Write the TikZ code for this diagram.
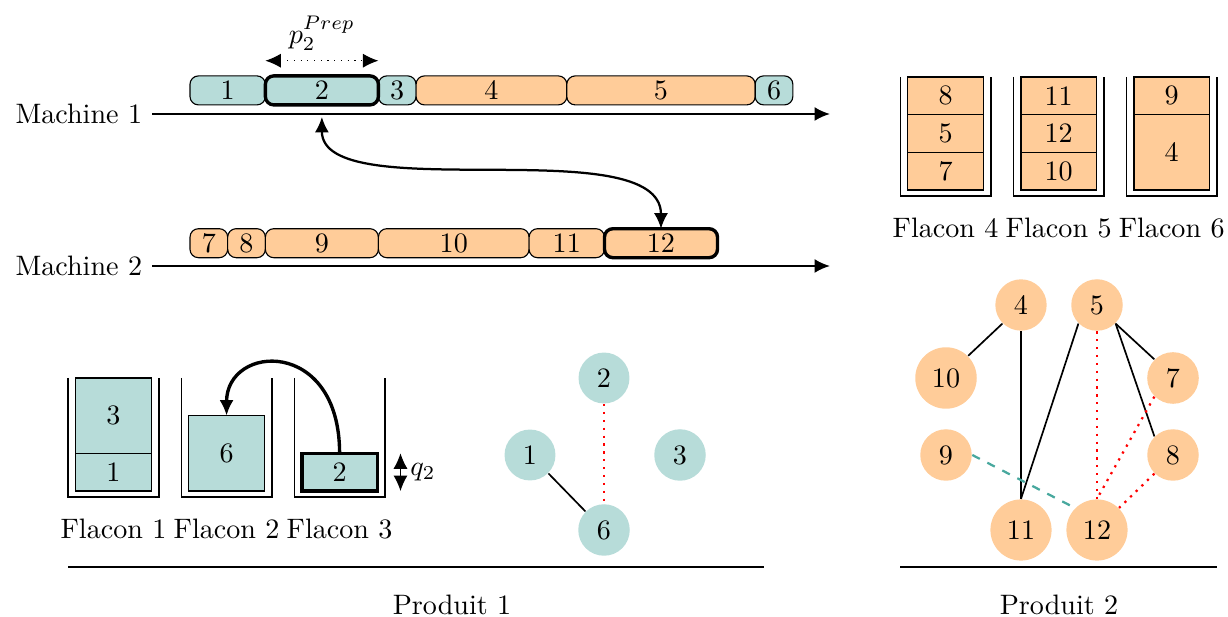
\documentclass[tikz,border=0pt]{standalone}
\usepackage{amsmath,amssymb}
\usepackage{xcolor}
\usepackage{tikz}
\usetikzlibrary{arrows.meta, positioning, calc}

\definecolor{prodA}{RGB}{183,220,217}
\definecolor{prodB}{RGB}{255,204,153}
\definecolor{prodAline}{RGB}{72,168,158}

\def\ux{0.471}

\begin{document}
\begin{tikzpicture}[>={Latex[length=5.5pt, width=5pt]},
  task/.style={draw, rounded corners=3pt, minimum height=0.3625cm, inner sep=0pt, outer sep=0pt, anchor=west},
  dose/.style={draw, minimum width=2*\ux cm, inner sep=0pt, outer sep=0pt, anchor=south},
  job/.style={circle, inner sep=3.5pt},
  chosen/.style={line width=1.2pt},
  conflict/.style={red, dotted, thick},
  shared/.style={prodAline, dashed, thick},
  prec/.style={semithick}
]
  \useasboundingbox (0,0) rectangle (15.35,-7.7125);

  % Machines
  \node[anchor=east] (m1) at (1.9,-1.425) {Machine 1};
  \node[anchor=east] (m2) at (1.9,-3.325) {Machine 2};
  \coordinate (m1end) at (10.375,-1.425);
  \coordinate (m2end) at (10.375,-3.325);
  \draw[->, thick] (m1.east) -- (m1end);
  \draw[->, thick] (m2.east) -- (m2end);

  % Schedule machine 1 (start/length in units)
  \foreach \n/\s/\w/\col in {1/0/2/prodA, 3/5/1/prodA, 4/6/4/prodB, 5/10/5/prodB, 6/15/1/prodA}
    \node[task, fill=\col, minimum width=\w*\ux cm] (j\n) at ({2.375+\s*\ux},-1.13) {\n};
  \node[task, chosen, fill=prodA, minimum width=3*\ux cm] (j2) at ({2.375+2*\ux},-1.13) {2};

  % Schedule machine 2
  \foreach \n/\s/\w in {7/0/1, 8/1/1, 9/2/3, 10/5/4, 11/9/2}
    \node[task, fill=prodB, minimum width=\w*\ux cm] (j\n) at ({2.375+\s*\ux},-3.04) {\n};
  \node[task, chosen, fill=prodB, minimum width=3*\ux cm] (j12) at ({2.375+11*\ux},-3.04) {12};

  % Preparation time of job 2
  \coordinate (pl) at ([yshift=0.19cm]j2.north west);
  \coordinate (pr) at ([yshift=0.19cm]j2.north east);
  \draw[<->, dotted] (pl) -- (pr) node[midway, above] (prep) {$p_2^{Prep}$};

  % Swap between machines
  \coordinate (j2below) at ([yshift=-0.15cm]j2.south);
  \draw[<->, thick] (j2below) .. controls +(0,-1.15) and +(0,1.25) .. (j12.north);

  % Vials of product 1
  \node[dose, fill=prodA, minimum height=\ux cm] (v1) at (1.419,-6.1375) {1};
  \node[dose, fill=prodA, minimum height=2*\ux cm, above=0pt of v1] (v3) {3};
  \node[dose, fill=prodA, minimum height=2*\ux cm] (v6) at (2.832,-6.1375) {6};
  \node[dose, chosen, fill=prodA, minimum height=\ux cm] (v2) at (4.245,-6.1375) {2};

  % Vials of product 2
  \node[dose, fill=prodB, minimum height=\ux cm] (v7) at (11.82,-2.375) {7};
  \node[dose, fill=prodB, minimum height=\ux cm, above=0pt of v7] (v5) {5};
  \node[dose, fill=prodB, minimum height=\ux cm, above=0pt of v5] (v8) {8};
  \node[dose, fill=prodB, minimum height=\ux cm] (v10) at (13.233,-2.375) {10};
  \node[dose, fill=prodB, minimum height=\ux cm, above=0pt of v10] (v12) {12};
  \node[dose, fill=prodB, minimum height=\ux cm, above=0pt of v12] (v11) {11};
  \node[dose, fill=prodB, minimum height=2*\ux cm] (v4) at (14.646,-2.375) {4};
  \node[dose, fill=prodB, minimum height=\ux cm, above=0pt of v4] (v9) {9};

  % Flacons
  \foreach \n/\x/\y in {1/1.419/-6.1375, 2/2.832/-6.1375, 3/4.245/-6.1375, 4/11.82/-2.375, 5/13.233/-2.375, 6/14.646/-2.375} {
    \draw[semithick] ({\x-0.565},{\y+1.413}) -- ({\x-0.565},{\y-0.075}) -- ({\x+0.565},{\y-0.075}) -- ({\x+0.565},{\y+1.413});
    \node (fl\n) at (\x,{\y-0.48}) {Flacon \n};
  }

  % Quantity of job 2
  \coordinate (qt) at ([xshift=0.29cm]v2.north east);
  \coordinate (qb) at ([xshift=0.29cm]v2.south east);
  \draw[<->] (qt) -- (qb) node[midway, right] (q2) {$q_2$};

  % Move to flacon 2
  \draw[->, very thick] (v2.north) .. controls +(0,1.45) and +(0,0.9) .. (v6.north);

  % Graph product 1
  \foreach \n/\x/\y in {2/7.55/-4.725, 1/6.625/-5.6875, 3/8.5/-5.6875, 6/7.55/-6.625}
    \node[job, fill=prodA] (g\n) at (\x,\y) {\n};
  \draw[prec] (g1.south east) -- (g6.north west);
  \draw[conflict] (g2.south) -- (g6.north);

  % Graph product 2
  \foreach \n/\x/\y in {4/12.7625/-3.8125, 5/13.7125/-3.8125, 10/11.825/-4.725, 7/14.6625/-4.725,
                        9/11.825/-5.6875, 8/14.6625/-5.6875, 11/12.7625/-6.625, 12/13.7125/-6.625}
    \node[job, fill=prodB] (g\n) at (\x,\y) {\n};
  \draw[prec] (g4.south west) -- (g10.north east);
  \draw[prec] (g4.south) -- (g11.north);
  \draw[prec] (g5.south west) -- (g11.north);
  \draw[prec] (g5.south east) -- (g7.north west);
  \draw[prec] (g5.south east) -- (g8.north west);
  \draw[conflict] (g5.south) -- (g12.north);
  \draw[conflict] (g7.south west) -- (g12.north);
  \draw[conflict] (g8.south west) -- (g12.north east);
  \draw[shared] (g9.east) -- (g12.north west);

  % Products
  \draw (0.85,-7.0875) -- (9.55,-7.0875);
  \draw (11.25,-7.0875) -- (15.2125,-7.0875);
  \node (p1) at (5.65,-7.5625) {Produit 1};
  \node (p2) at (13.2375,-7.5625) {Produit 2};
\end{tikzpicture}
\end{document}
